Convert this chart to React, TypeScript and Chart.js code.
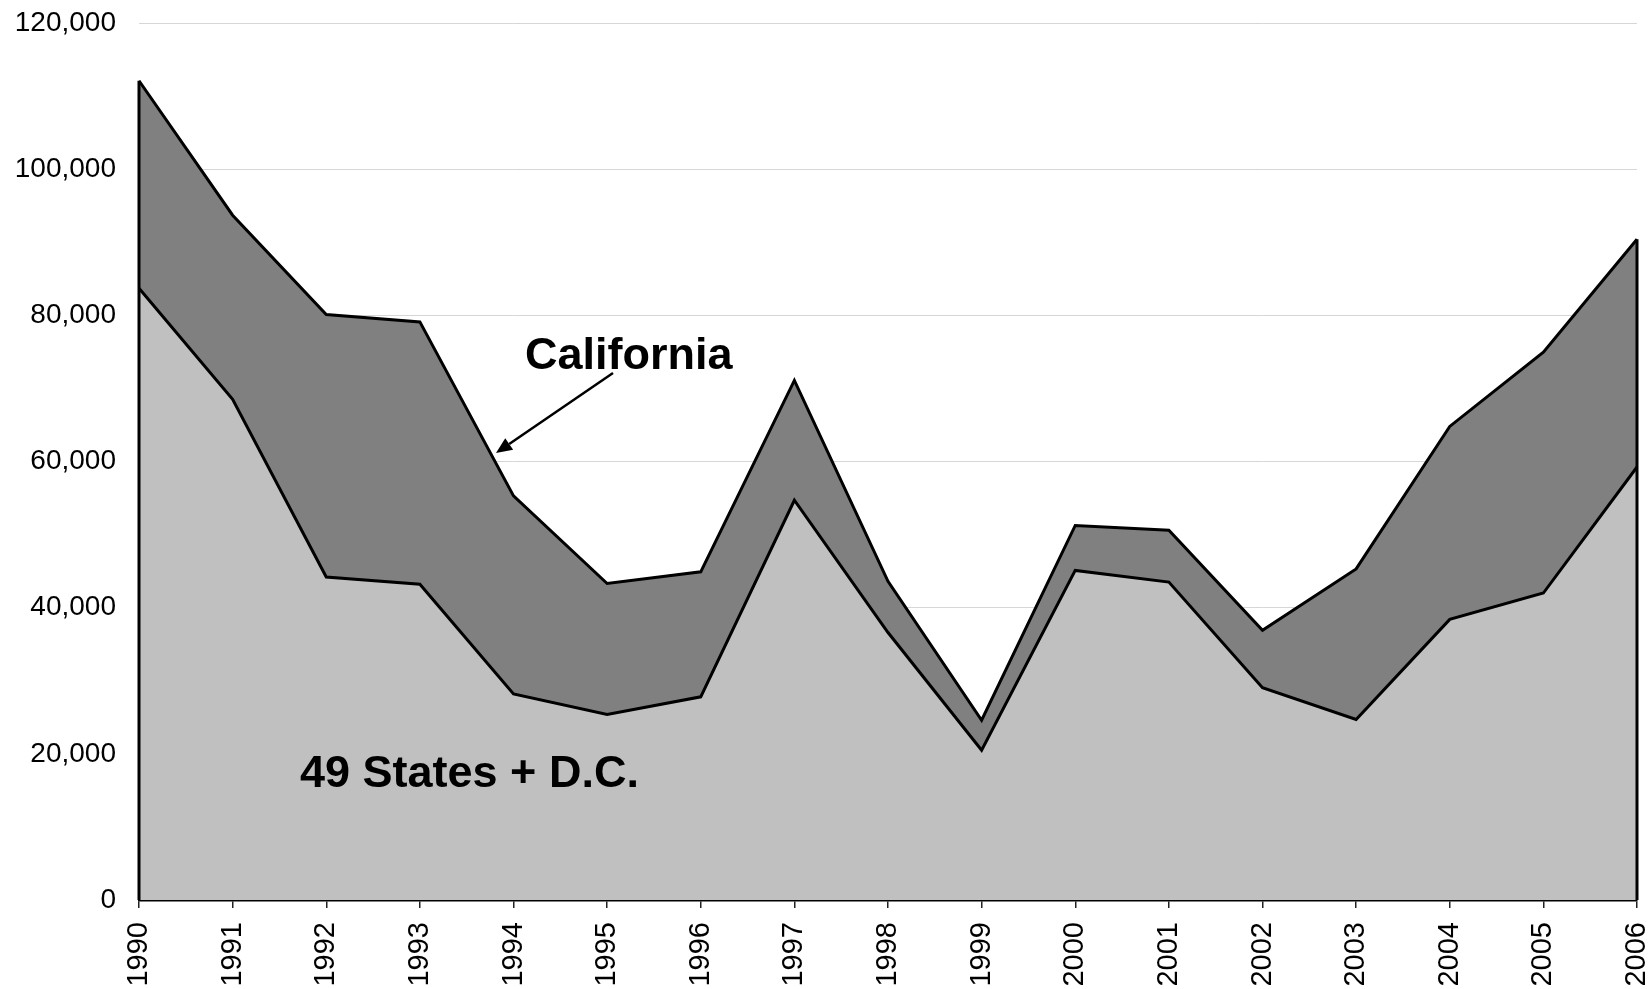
import React, { useEffect, useRef } from "react";
import { Chart, registerables } from "chart.js";

Chart.register(...registerables);

const years = ["1990","1991","1992","1993","1994","1995","1996","1997","1998","1999","2000","2001","2002","2003","2004","2005","2006"];
const statesDC = [83700, 68500, 44200, 43200, 28200, 25400, 27800, 54700, 36600, 20500, 45100, 43500, 29050, 24700, 38400, 42000, 59250];
const california = [28400, 25200, 35900, 35900, 27100, 17900, 17100, 16400, 7000, 4100, 6150, 7100, 7850, 20600, 26400, 32950, 31150];
const yTicks = [0, 20000, 40000, 60000, 80000, 100000, 120000];

const FONT = "'Liberation Sans', Arial, Helvetica, sans-serif";

const decorPlugin = {
  id: "decor",
  afterDatasetsDraw(chart: any) {
    const ctx = chart.ctx;
    const xs = chart.scales.x;
    const ys = chart.scales.y;
    const last = years.length - 1;
    ctx.save();
    ctx.strokeStyle = "#000";
    ctx.lineWidth = 3;
    [0, last].forEach((i) => {
      const x = xs.getPixelForValue(i);
      ctx.beginPath();
      ctx.moveTo(x, ys.getPixelForValue(0));
      ctx.lineTo(x, ys.getPixelForValue(statesDC[i] + california[i]));
      ctx.stroke();
    });
    // labels
    ctx.fillStyle = "#000";
    ctx.font = `bold 45px ${FONT}`;
    ctx.textAlign = "left";
    ctx.textBaseline = "alphabetic";
    ctx.fillText("California", 525, 369);
    ctx.fillText("49 States + D.C.", 300, 787);
    // arrow
    const x1 = 613, y1 = 373, x2 = 496, y2 = 453;
    const ang = Math.atan2(y2 - y1, x2 - x1);
    const hl = 16, hw = 7;
    const bx = x2 - hl * Math.cos(ang), by = y2 - hl * Math.sin(ang);
    ctx.lineWidth = 2.5;
    ctx.beginPath();
    ctx.moveTo(x1, y1);
    ctx.lineTo(bx, by);
    ctx.stroke();
    ctx.beginPath();
    ctx.moveTo(x2, y2);
    ctx.lineTo(bx + hw * Math.sin(ang), by - hw * Math.cos(ang));
    ctx.lineTo(bx - hw * Math.sin(ang), by + hw * Math.cos(ang));
    ctx.closePath();
    ctx.fill();
    ctx.restore();
  },
};

export default function App() {
  const ref = useRef<HTMLCanvasElement | null>(null);
  useEffect(() => {
    if (!ref.current) return;
    const chart = new Chart(ref.current, {
      type: "line",
      data: {
        labels: years,
        datasets: [
          {
            label: "49 States + D.C.",
            data: statesDC,
            fill: "origin",
            backgroundColor: "#c0c0c0",
            borderColor: "#000",
            borderWidth: 3,
            pointRadius: 0,
            tension: 0,
          },
          {
            label: "California",
            data: california,
            fill: "-1",
            backgroundColor: "#808080",
            borderColor: "#000",
            borderWidth: 3,
            pointRadius: 0,
            tension: 0,
          },
        ],
      },
      options: {
        animation: false,
        responsive: false,
        devicePixelRatio: 1,
        layout: { padding: { left: 0, right: 13, top: 23, bottom: 0 } },
        plugins: {
          legend: { display: false },
          tooltip: { enabled: false },
        },
        scales: {
          x: {
            offset: false,
            grid: {
              display: true,
              drawOnChartArea: false,
              drawTicks: true,
              tickLength: 8,
              color: "#222",
              lineWidth: 1.5,
            },
            border: { display: true, color: "#000", width: 2.5 },
            ticks: {
              autoSkip: false,
              minRotation: 90,
              maxRotation: 90,
              padding: 14,
              color: "#000",
              font: { family: FONT, size: 29 },
            },
            afterFit: (scale: any) => {
              scale.height = 89;
              scale.paddingLeft = 0;
              scale.paddingRight = 0;
            },
          },
          y: {
            stacked: true,
            min: 0,
            max: 120000,
            afterBuildTicks: (scale: any) => {
              scale.ticks = yTicks.map((v) => ({ value: v }));
            },
            grid: {
              color: (c: any) => (c.tick && c.tick.value === 0 ? "rgba(0,0,0,0)" : "#d6d6d6"),
              lineWidth: 1,
              drawTicks: false,
            },
            border: { display: false },
            ticks: {
              padding: 23,
              color: "#000",
              font: { family: FONT, size: 28 },
              callback: (v: any) => Number(v).toLocaleString("en-US"),
            },
            afterFit: (scale: any) => {
              scale.width = 139;
              scale.paddingTop = 0;
              scale.paddingBottom = 0;
            },
          },
        },
      },
      plugins: [decorPlugin],
    });
    return () => chart.destroy();
  }, []);
  return (
    <div style={{ position: "fixed", left: 0, top: 0, width: 1650, height: 989, background: "#fff", overflow: "hidden" }}>
      <canvas ref={ref} width={1650} height={989} style={{ display: "block" }} />
    </div>
  );
}
